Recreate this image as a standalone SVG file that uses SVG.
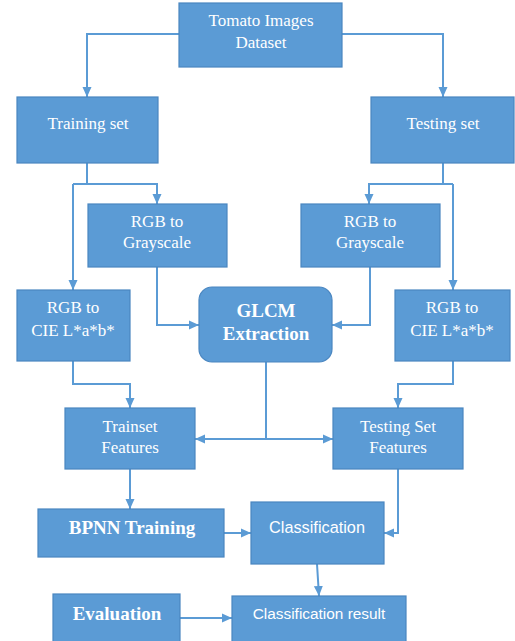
<svg xmlns="http://www.w3.org/2000/svg" width="515" height="641" viewBox="0 0 515 641">
<style>
.box{fill:#5b9bd5;stroke:#4a86c0;stroke-width:1.2}
.t{fill:#fff;font-family:"Liberation Serif","Times New Roman",serif;font-size:17px;text-anchor:middle}
.b{font-weight:bold;font-size:19px}
.s{font-family:"Liberation Sans",Arial,sans-serif;font-size:16.3px}
.c{fill:none;stroke:#5b9bd5;stroke-width:2}
</style>
<defs>
<marker id="ah" markerUnits="userSpaceOnUse" markerWidth="10" markerHeight="10" viewBox="0 0 10 10" refX="10" refY="5" orient="auto">
<path d="M0,0.5 L10,5 L0,9.5 Z" fill="#5b9bd5"/>
</marker>
</defs>
<rect width="515" height="641" fill="#fff"/>
<g id="connectors">
<path class="c" d="M179,34 H87 V97" marker-end="url(#ah)"/>
<path class="c" d="M342,34 H443 V97" marker-end="url(#ah)"/>
<path class="c" d="M87,163 V184"/>
<path class="c" d="M73,184 H157 V204" marker-end="url(#ah)"/>
<path class="c" d="M73,184 V290" marker-end="url(#ah)"/>
<path class="c" d="M443,163 V184"/>
<path class="c" d="M453,184 H369 V204" marker-end="url(#ah)"/>
<path class="c" d="M453,184 V290" marker-end="url(#ah)"/>
<path class="c" d="M157,267 V325 H199" marker-end="url(#ah)"/>
<path class="c" d="M370,267 V325 H332" marker-end="url(#ah)"/>
<path class="c" d="M73,361 V384 H130 V408" marker-end="url(#ah)"/>
<path class="c" d="M453,361 V384 H398 V408" marker-end="url(#ah)"/>
<path class="c" d="M266,362 V439"/>
<path class="c" d="M266,439 H195" marker-end="url(#ah)"/>
<path class="c" d="M266,439 H333" marker-end="url(#ah)"/>
<path class="c" d="M130,469 V509" marker-end="url(#ah)"/>
<path class="c" d="M224,533 H251" marker-end="url(#ah)"/>
<path class="c" d="M398,469 V533 H384" marker-end="url(#ah)"/>
<path class="c" d="M317,564 L319,596" marker-end="url(#ah)"/>
<path class="c" d="M180,618 H232" marker-end="url(#ah)"/>
</g>
<g id="dataset"><rect class="box" x="179" y="3" width="163" height="64"/><text class="t" x="261" y="26">Tomato Images</text><text class="t" x="261" y="48">Dataset</text></g>
<g id="training"><rect class="box" x="17" y="97" width="141" height="66"/><text class="t" x="88" y="129">Training set</text></g>
<g id="testing"><rect class="box" x="371" y="97" width="143" height="66"/><text class="t" x="443" y="129">Testing set</text></g>
<g id="gray-left"><rect class="box" x="88" y="204" width="139" height="63"/><text class="t" x="157" y="227">RGB to</text><text class="t" x="157" y="248">Grayscale</text></g>
<g id="gray-right"><rect class="box" x="301" y="204" width="139" height="63"/><text class="t" x="370" y="227">RGB to</text><text class="t" x="370" y="248">Grayscale</text></g>
<g id="cie-left"><rect class="box" x="17" y="290" width="113" height="71"/><text class="t" x="73" y="313">RGB to</text><text class="t" x="73" y="336">CIE L*a*b*</text></g>
<g id="glcm"><rect class="box" x="199" y="287" width="133" height="75" rx="13"/><text class="t b" x="266" y="317">GLCM</text><text class="t b" x="266" y="340">Extraction</text></g>
<g id="cie-right"><rect class="box" x="395" y="290" width="115" height="71"/><text class="t" x="452" y="313">RGB to</text><text class="t" x="452" y="336">CIE L*a*b*</text></g>
<g id="trainset-features"><rect class="box" x="65" y="408" width="130" height="61"/><text class="t" x="130" y="432">Trainset</text><text class="t" x="130" y="453">Features</text></g>
<g id="testing-features"><rect class="box" x="333" y="408" width="130" height="61"/><text class="t" x="398" y="432">Testing Set</text><text class="t" x="398" y="453">Features</text></g>
<g id="bpnn"><rect class="box" x="38" y="509" width="186" height="48"/><text class="t b" x="132" y="534">BPNN Training</text></g>
<g id="classification"><rect class="box" x="251" y="502" width="133" height="62"/><text class="t s" x="317" y="533">Classification</text></g>
<g id="evaluation"><rect class="box" x="53" y="594" width="127" height="50"/><text class="t b" x="117" y="620">Evaluation</text></g>
<g id="result"><rect class="box" x="232" y="596" width="174" height="48"/><text class="t s" x="319" y="619" style="font-size:15.4px">Classification result</text></g>
</svg>
